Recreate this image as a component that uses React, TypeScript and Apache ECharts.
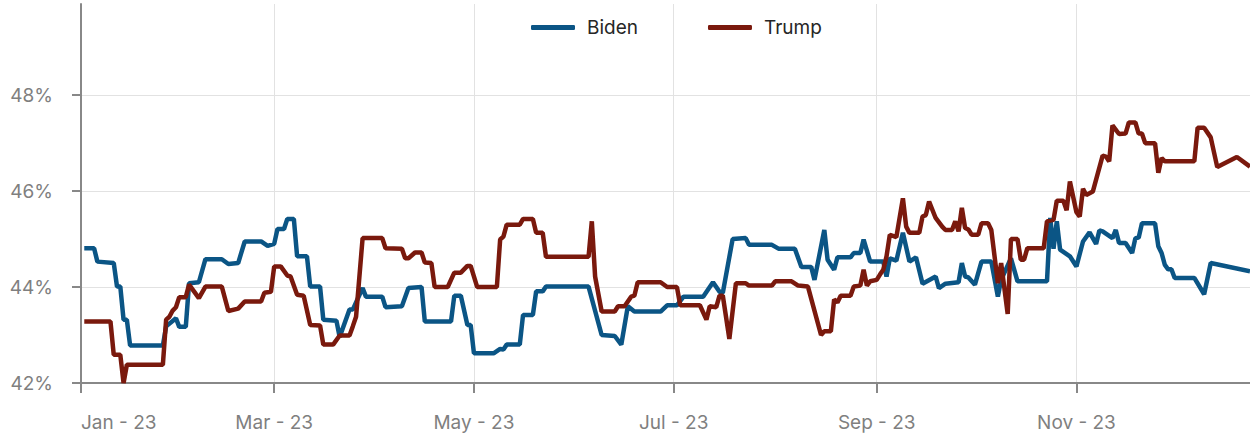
import React, { useEffect, useRef } from "react";
import * as echarts from "echarts";

const seriesNames = ["Biden", "Trump"];
const seriesColors = ["#0b5585", "#7a190d"];

// days since 2023-01-01
const bidenDays = [1,4,5,10,11,12,13,14,15,25,26,29,30,32,33,36,38,43,45,48,50,55,57,59,60,62,63,65,66,69,70,73,74,78,79,82,83,86,87,92,93,98,100,104,105,113,114,116,118,119,120,126,128,129,130,134,135,138,139,141,142,155,159,163,165,167,169,177,179,182,184,190,193,195,196,199,203,204,211,213,218,220,223,224,227,228,230,231,235,236,238,239,241,245,246,247,249,251,253,255,257,261,262,264,268,269,270,271,273,275,278,280,281,284,286,295,296,297,298,299,302,304,306,308,310,311,312,315,316,317,319,321,322,323,324,328,329,330,331,332,333,334,340,343,345,357];
const bidenValues = [44.81,44.81,44.53,44.5,44.01,44.01,43.32,43.32,42.78,42.78,43.18,43.35,43.17,43.17,44.08,44.1,44.58,44.58,44.48,44.5,44.95,44.95,44.86,44.9,45.21,45.21,45.42,45.42,44.64,44.64,44.01,44.01,43.32,43.3,42.96,43.53,43.53,43.98,43.8,43.8,43.58,43.6,43.98,44.0,43.28,43.28,43.82,43.82,43.21,43.21,42.62,42.62,42.71,42.7,42.8,42.8,43.42,43.42,43.91,43.91,44.01,44.01,43.0,42.98,42.8,43.6,43.49,43.49,43.62,43.62,43.8,43.8,44.1,43.9,43.88,45.0,45.02,44.88,44.88,44.8,44.8,44.42,44.42,44.15,45.19,44.57,44.36,44.62,44.62,44.71,44.71,44.99,44.53,44.53,44.22,44.6,44.55,45.13,44.53,44.62,44.07,44.22,43.98,44.07,44.1,44.5,44.22,44.2,44.05,44.53,44.53,43.8,44.15,44.6,44.12,44.12,45.44,44.8,45.37,44.78,44.64,44.43,44.95,45.14,44.9,45.18,45.16,45.02,45.19,44.92,44.92,44.71,45.02,45.03,45.33,45.33,44.85,44.71,44.46,44.37,44.37,44.19,44.19,43.85,44.5,44.33];

const trumpDays = [1,9,10,12,13,14,25,26,27,28,29,30,32,33,36,38,43,45,48,50,55,56,58,59,61,63,64,66,68,70,73,74,77,79,82,83,84,86,92,93,98,99,100,102,104,105,107,108,112,114,116,118,119,121,127,128,129,130,134,135,138,139,141,142,155,156,157,159,163,164,166,168,169,170,177,179,182,183,189,191,192,194,195,196,198,200,203,204,211,212,217,219,222,226,227,229,230,231,232,235,236,238,239,240,241,243,244,245,246,247,249,251,252,253,256,257,258,259,261,263,264,266,267,268,269,270,271,272,274,275,277,278,280,281,283,284,286,287,288,289,294,295,297,298,300,301,302,304,305,306,307,309,312,313,314,315,317,319,320,322,323,324,325,328,329,330,331,340,341,343,345,347,353,357];
const trumpValues = [43.28,43.28,42.59,42.59,42.0,42.38,42.38,43.32,43.38,43.51,43.58,43.79,43.79,44.05,43.77,44.01,44.01,43.5,43.55,43.7,43.7,43.88,43.9,44.43,44.43,44.24,44.22,43.84,43.82,43.21,43.2,42.8,42.8,42.99,42.99,43.18,43.38,45.02,45.02,44.81,44.8,44.6,44.6,44.72,44.72,44.51,44.5,44.0,44.0,44.3,44.3,44.44,44.44,44.0,44.0,44.99,45.05,45.3,45.3,45.42,45.42,45.13,45.13,44.63,44.63,45.37,44.22,43.49,43.49,43.6,43.6,43.8,43.82,44.1,44.1,44.0,44.0,43.62,43.62,43.32,43.6,43.58,43.82,43.82,42.92,44.08,44.08,44.03,44.03,44.12,44.12,44.03,44.01,43.0,43.08,43.08,43.74,43.68,43.82,43.82,44.01,44.03,44.36,44.03,44.12,44.15,44.26,44.36,44.64,45.09,45.04,45.85,45.26,45.13,45.13,45.47,45.5,45.78,45.44,45.26,45.19,45.19,45.37,45.16,45.65,45.23,45.2,45.09,45.09,45.33,45.33,45.19,44.08,44.5,43.44,45.0,45.0,44.57,44.57,44.81,44.81,45.37,45.4,45.8,45.8,45.6,46.2,45.56,45.47,46.05,45.92,45.99,46.74,46.72,46.62,47.37,47.19,47.2,47.43,47.43,47.2,47.2,47.0,47.0,46.38,46.69,46.62,46.62,47.32,47.32,47.12,46.5,46.71,46.51];

const tickMonths = [0, 2, 4, 6, 8, 10];
const monthNames = ["Jan","Feb","Mar","Apr","May","Jun","Jul","Aug","Sep","Oct","Nov","Dec"];
const yearLabel = "23";
const yTicks = [42, 44, 46, 48];
const yMin = 42;
const yMax = 49.9;
const lastDay = 357;

const DAY = 86400000;
const START = Date.UTC(2023, 0, 1);

export default function App() {
  const ref = useRef<HTMLDivElement>(null);
  useEffect(() => {
    if (!ref.current) return;
    const chart = echarts.init(ref.current, null, { renderer: "svg" });
    const toData = (days: number[], vals: number[]) => days.map((d, i) => [d, vals[i]]);
    const monthTickDays = tickMonths.map((m) => Math.round((Date.UTC(2023, m, 1) - START) / DAY));
    const dayToLabel: Record<number, string> = {};
    tickMonths.forEach((m, i) => {
      dayToLabel[monthTickDays[i]] = monthNames[m] + " - " + yearLabel;
    });
    const font = "Inter";
    chart.setOption({
      animation: false,
      grid: { left: 81, right: 0, top: 4, bottom: 52, containLabel: false },
      legend: {
        data: seriesNames,
        left: 526,
        top: 13,
        icon: "roundRect",
        itemWidth: 44,
        itemHeight: 5,
        itemGap: 70,
        textStyle: { fontFamily: font, fontSize: 19, color: "#262626", padding: [0, 0, 0, 7] },
      },
      xAxis: {
        type: "value",
        min: 0,
        max: lastDay,
        axisLine: { show: true, lineStyle: { color: "#888888", width: 2 } },
        axisTick: { show: true, length: 10, customValues: monthTickDays, lineStyle: { color: "#888888", width: 2 } },
        axisLabel: {
          customValues: monthTickDays,
          margin: 30,
          fontFamily: font,
          fontSize: 19,
          color: "#7f7f7f",
          hideOverlap: false,
          alignMinLabel: "left",
          padding: [0, 0, 0, 0],
          formatter: (v: number) => dayToLabel[Math.round(v)] || "",
        },
        splitLine: { show: true, lineStyle: { color: "#e2e2e2", width: 1 } },
      },
      yAxis: {
        type: "value",
        min: yMin,
        max: yMax,
        interval: 2,
        axisLine: { show: true, lineStyle: { color: "#888888", width: 2 } },
        axisTick: { show: true, length: 9, customValues: yTicks, lineStyle: { color: "#888888", width: 2 } },
        axisLabel: {
          customValues: yTicks,
          margin: 28,
          fontFamily: font,
          fontSize: 19,
          color: "#7f7f7f",
          formatter: (v: number) => v + "%",
        },
        splitLine: { show: true, lineStyle: { color: "#e2e2e2", width: 1 } },
      },
      series: [
        {
          name: seriesNames[0],
          type: "line",
          data: toData(bidenDays, bidenValues),
          showSymbol: false,
          symbol: "none",
          color: seriesColors[0],
          lineStyle: { width: 4.5, color: seriesColors[0] },
        },
        {
          name: seriesNames[1],
          type: "line",
          data: toData(trumpDays, trumpValues),
          showSymbol: false,
          symbol: "none",
          color: seriesColors[1],
          lineStyle: { width: 4.5, color: seriesColors[1] },
        },
      ],
    });
    return () => chart.dispose();
  }, []);
  return (
    <div
      ref={ref}
      style={{ position: "fixed", left: 0, top: 0, width: 1250, height: 435, background: "#ffffff" }}
    />
  );
}
